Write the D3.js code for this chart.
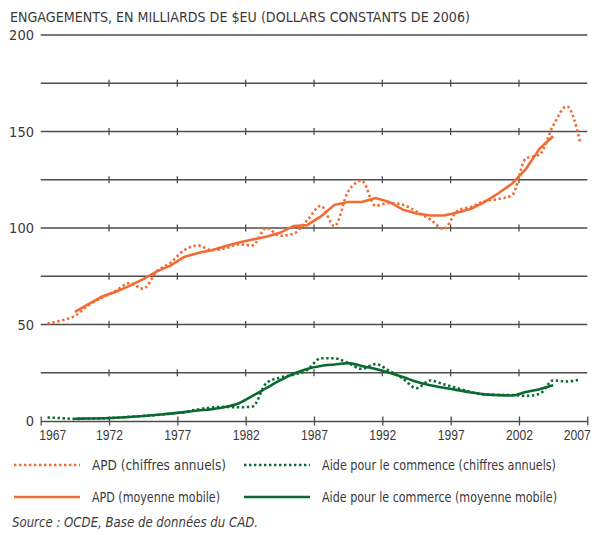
<!DOCTYPE html>
<html>
<head>
<meta charset="utf-8">
<script src="https://cdn.jsdelivr.net/npm/d3@7"></script>
<style>
  body { margin: 0; background: #fff; }
  svg { display: block; font-family: "DejaVu Sans Condensed", "Liberation Sans", sans-serif; }
</style>
</head>
<body>
<div id="chart"></div>
<script>
const width = 603;
const height = 535;

// donnees (milliards de $EU constants 2006)
const years = d3.range(1967, 2007);
const maYears = d3.range(1969, 2005);

const apdAnnual = [50.5, 52, 54.5, 60, 64, 67.5, 71.5, 68.5, 77.5, 82,
  88.5, 91, 88.5, 89.5, 91.5, 91, 100, 96, 97, 104,
  111.5, 101, 119, 124.5, 111.5, 113, 112, 108.5, 104.5, 99.5,
  109, 111, 114, 115, 117, 136, 138, 153, 163, 144];

const apdMA = [56.5, 60.5, 64.5, 67, 70, 73.5, 77.5, 80.5, 85, 87,
  88.5, 90.5, 92.5, 94, 95.5, 97.5, 101, 101.5, 106, 112,
  113.5, 113.5, 115.5, 113.5, 109.5, 107.5, 106.5, 106.5, 108, 110,
  113.5, 118, 123, 130.5, 141, 147.5];

const aptAnnual = [1.8, 1.5, 1.1, 1.2, 1.4, 1.7, 2.2, 2.6, 3.1, 3.8,
  4.6, 6, 7, 7.3, 7.1, 7.5, 19.5, 22.5, 24, 26.5,
  32.5, 32.5, 30, 27, 29.5, 26, 22, 17, 21, 19,
  17, 15, 13.7, 13.5, 13.5, 13, 14, 21, 20.5, 21.5];

const aptMA = [1.2, 1.3, 1.4, 1.7, 2.1, 2.6, 3.2, 3.8, 4.6, 5.4,
  6.1, 7.2, 9.2, 13, 17, 21, 24.5, 27, 28.5, 29.3,
  30, 28.5, 27, 25, 22.8, 20.3, 18.5, 17.2, 16, 14.8,
  13.8, 13.4, 13.2, 15, 16.5, 18.5];

const yTicks = [0, 50, 100, 150, 200];
const gridValues = [25, 50, 75, 100, 125, 150, 175];
const xTicks = [1967, 1972, 1977, 1982, 1987, 1992, 1997, 2002, 2007];

const legendLabels = [
  "APD (chiffres annuels)",
  "Aide pour le commence (chiffres annuels)",
  "APD (moyenne mobile)",
  "Aide pour le commerce (moyenne mobile)"
];

const orange = "#f26b35";
const green = "#0b6a31";
const gridColor = "#4d4d4d";
const textColor = "#3a3a3a";

// la police d'origine est etroite : on resserre les textes a leur largeur lue
const legendWidths = [134, 234, 128, 235];

const svg = d3.select("#chart")
  .append("svg")
  .attr("width", width)
  .attr("height", height);

const xScale = d3.scaleLinear().domain([1967, 2007]).range([40.7, 587.3]);
const yScale = d3.scaleLinear().domain([0, 200]).range([421, 35]);

// titre
svg.append("text")
  .attr("x", 10)
  .attr("y", 22)
  .attr("fill", textColor)
  .style("font-size", "14px")
  .attr("textLength", 460)
  .attr("lengthAdjust", "spacingAndGlyphs")
  .text("ENGAGEMENTS, EN MILLIARDS DE $EU (DOLLARS CONSTANTS DE 2006)");

// lignes de grille
svg.append("line")
  .attr("x1", xScale(1967))
  .attr("x2", xScale(2007))
  .attr("y1", yScale(200))
  .attr("y2", yScale(200))
  .attr("stroke", gridColor)
  .attr("stroke-width", 1.3);

const grid = svg.append("g");
gridValues.forEach(v => {
  grid.append("line")
    .attr("x1", xScale(1967))
    .attr("x2", xScale(2007))
    .attr("y1", yScale(v))
    .attr("y2", yScale(v))
    .attr("stroke", gridColor)
    .attr("stroke-width", 1.3);
  grid.selectAll(null)
    .data(xTicks.slice(1, -1))
    .join("line")
    .attr("x1", d => xScale(d))
    .attr("x2", d => xScale(d))
    .attr("y1", yScale(v) - 3.5)
    .attr("y2", yScale(v) + 3.5)
    .attr("stroke", gridColor)
    .attr("stroke-width", 1.3);
});

// axe x
const xAxis = svg.append("g")
  .attr("transform", `translate(0, ${yScale(0)})`)
  .call(d3.axisBottom(xScale).tickValues(xTicks).tickFormat(d3.format("d")).tickSizeInner(4).tickSizeOuter(0));
xAxis.select(".domain").attr("stroke", gridColor).attr("stroke-width", 1.3);
xAxis.selectAll(".tick line")
  .attr("y1", -4.5)
  .attr("y2", 4.5)
  .attr("stroke", gridColor)
  .attr("stroke-width", 1.3);
xAxis.selectAll(".tick text")
  .attr("y", 9)
  .attr("fill", textColor)
  .style("font-size", "14.5px")
  .style("font-family", "inherit")
  .attr("textLength", 27)
  .attr("lengthAdjust", "spacingAndGlyphs")
  .attr("text-anchor", d => d == 1967 ? "start" : d == 2007 ? "end" : "middle")
  .attr("dx", d => d == 1967 ? -2 : d == 2007 ? 3 : 0);

// etiquettes y
svg.append("g")
  .selectAll("text")
  .data(yTicks)
  .join("text")
  .attr("x", 34)
  .attr("y", d => yScale(d))
  .attr("dy", "0.35em")
  .attr("text-anchor", "end")
  .attr("fill", textColor)
  .style("font-size", "14.5px")
  .text(d => d);

// series
const line = d3.line()
  .x(d => xScale(d[0] + 0.5))
  .y(d => yScale(d[1]));

const smooth = d3.line()
  .curve(d3.curveMonotoneX)
  .x(d => xScale(d[0] + 0.5))
  .y(d => yScale(d[1]));

svg.append("path")
  .datum(d3.zip(years, aptAnnual))
  .attr("d", smooth)
  .attr("fill", "none")
  .attr("stroke", green)
  .attr("stroke-width", 2.6)
  .attr("stroke-dasharray", "2.4,2.6");

svg.append("path")
  .datum(d3.zip(maYears, aptMA))
  .attr("d", smooth)
  .attr("fill", "none")
  .attr("stroke", green)
  .attr("stroke-width", 2.6);

svg.append("path")
  .datum(d3.zip(years, apdAnnual))
  .attr("d", smooth)
  .attr("fill", "none")
  .attr("stroke", orange)
  .attr("stroke-width", 2.6)
  .attr("stroke-dasharray", "2.4,2.6");

svg.append("path")
  .datum(d3.zip(maYears, apdMA))
  .attr("d", line)
  .attr("fill", "none")
  .attr("stroke", orange)
  .attr("stroke-width", 2.6);

// legende : 2 colonnes, 2 lignes
const legend = svg.append("g")
  .selectAll("g")
  .data(legendLabels)
  .join("g")
  .attr("transform", (d, i) => `translate(${i % 2 == 0 ? 14 : 244}, ${465 + Math.floor(i / 2) * 32})`);

legend.append("line")
  .attr("x1", 0)
  .attr("x2", 66)
  .attr("stroke", (d, i) => i % 2 == 0 ? orange : green)
  .attr("stroke-width", 2.6)
  .attr("stroke-dasharray", (d, i) => i < 2 ? "2.4,2.6" : null);

legend.append("text")
  .attr("x", 78)
  .attr("dy", "0.35em")
  .attr("fill", textColor)
  .style("font-size", "14px")
  .attr("textLength", (d, i) => legendWidths[i])
  .attr("lengthAdjust", "spacingAndGlyphs")
  .text(d => d);

// source
svg.append("text")
  .attr("x", 12)
  .attr("y", 527)
  .attr("fill", textColor)
  .style("font-size", "14px")
  .style("font-style", "italic")
  .attr("textLength", 246)
  .attr("lengthAdjust", "spacingAndGlyphs")
  .text("Source : OCDE, Base de données du CAD.");
</script>
</body>
</html>
